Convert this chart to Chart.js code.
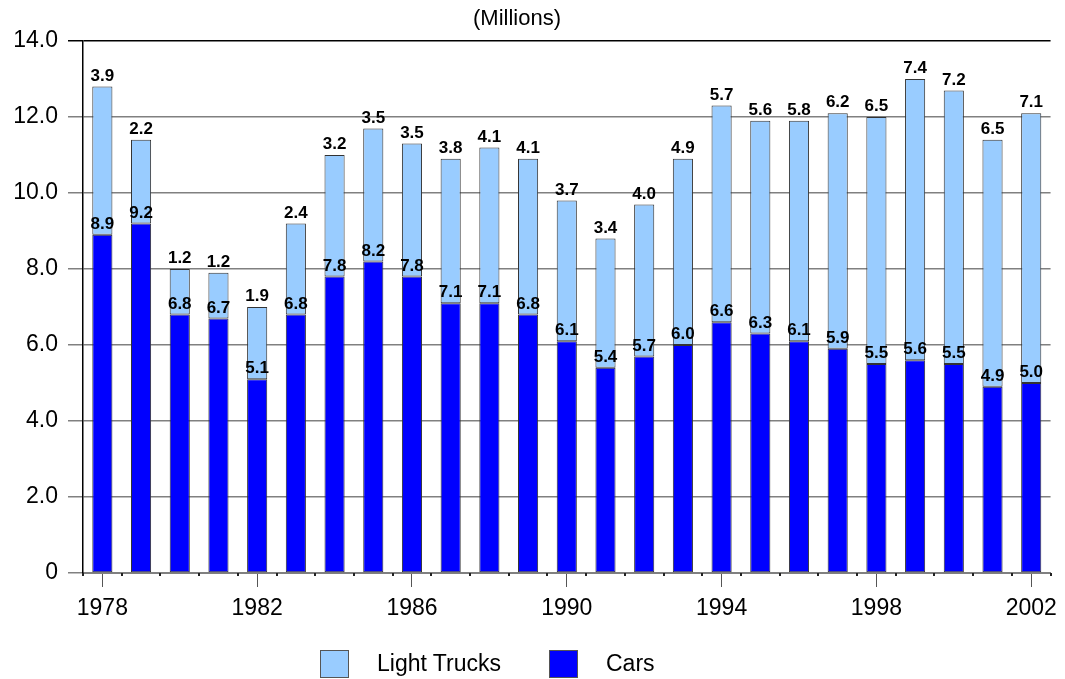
<!DOCTYPE html>
<html>
<head>
<meta charset="utf-8">
<script src="https://cdn.jsdelivr.net/npm/chart.js@4"></script>
<style>
  html, body { margin: 0; padding: 0; background: #fff; }
  #wrap { position: relative; width: 1065px; height: 679px; }
  canvas { position: absolute; left: 0; top: 0; }
  #title { position: absolute; left: 417px; width: 200px; top: 5px; text-align: center;
           font: 22px "Liberation Sans", Arial, sans-serif; color: #000; }
  .leg { position: absolute; top: 650px; height: 28px; font: 23px "Liberation Sans", Arial, sans-serif; color: #000; }
  .box { position: absolute; width: 27px; height: 26px; border: 1px solid #555; }
</style>
</head>
<body>
<div id="wrap">
  <canvas id="c" width="1065" height="679"></canvas>
  <div id="title">(Millions)</div>
  <div id="legend"></div>
</div>
<script>
const years = ["1978","1979","1980","1981","1982","1983","1984","1985","1986","1987","1988","1989","1990","1991","1992","1993","1994","1995","1996","1997","1998","1999","2000","2001","2002"];
const cars = [8.9, 9.2, 6.8, 6.7, 5.1, 6.8, 7.8, 8.2, 7.8, 7.1, 7.1, 6.8, 6.1, 5.4, 5.7, 6.0, 6.6, 6.3, 6.1, 5.9, 5.5, 5.6, 5.5, 4.9, 5.0];
const lightTrucks = [3.9, 2.2, 1.2, 1.2, 1.9, 2.4, 3.2, 3.5, 3.5, 3.8, 4.1, 4.1, 3.7, 3.4, 4.0, 4.9, 5.7, 5.6, 5.8, 6.2, 6.5, 7.4, 7.2, 6.5, 7.1];
const yTicks = [0, 2, 4, 6, 8, 10, 12, 14];

const CAR_COLOR = '#0000FF';
const TRUCK_COLOR = '#99CCFF';
const FONT = '"Liberation Sans", Arial, sans-serif';

// HTML legend
const legendItems = [
  { label: 'Light Trucks', color: TRUCK_COLOR, boxX: 320, textX: 377 },
  { label: 'Cars', color: CAR_COLOR, boxX: 549, textX: 606 }
];
const legendEl = document.getElementById('legend');
legendItems.forEach(it => {
  const b = document.createElement('div');
  b.className = 'box';
  b.style.left = it.boxX + 'px';
  b.style.top = '650px';
  b.style.background = it.color;
  legendEl.appendChild(b);
  const t = document.createElement('div');
  t.className = 'leg';
  t.style.left = it.textX + 'px';
  t.style.top = '650px';
  t.textContent = it.label;
  legendEl.appendChild(t);
});

const labelPlugin = {
  id: 'barLabels',
  afterDatasetsDraw(chart) {
    const ctx = chart.ctx;
    ctx.save();
    ctx.font = 'bold 17px ' + FONT;
    ctx.fillStyle = '#000';
    ctx.textAlign = 'center';
    ctx.textBaseline = 'bottom';
    chart.data.datasets.forEach((ds, di) => {
      const meta = chart.getDatasetMeta(di);
      meta.data.forEach((bar, i) => {
        ctx.fillText(ds.data[i].toFixed(1), bar.x, bar.y - 2);
      });
    });
    ctx.restore();
  }
};

const minorTicks = {
  id: 'minorTicks',
  afterDraw(chart) {
    const xs = chart.scales.x;
    const ctx = chart.ctx;
    const n = xs.getLabels().length;
    ctx.save();
    ctx.strokeStyle = '#222';
    ctx.lineWidth = 2;
    for (let i = 0; i <= n; i++) {
      let x;
      if (i === 0) x = xs.getPixelForValue(0) - (xs.getPixelForValue(1) - xs.getPixelForValue(0)) / 2;
      else if (i === n) x = xs.getPixelForValue(n - 1) + (xs.getPixelForValue(1) - xs.getPixelForValue(0)) / 2;
      else x = (xs.getPixelForValue(i - 1) + xs.getPixelForValue(i)) / 2;
      x = Math.round(x);
      ctx.beginPath();
      ctx.moveTo(x, xs.top);
      ctx.lineTo(x, xs.top + 3);
      ctx.stroke();
    }
    ctx.restore();
  }
};

new Chart(document.getElementById('c'), {
  type: 'bar',
  data: {
    labels: years,
    datasets: [
      { label: 'Cars', data: cars, backgroundColor: CAR_COLOR, borderColor: '#333', borderWidth: 1, borderSkipped: false,
        categoryPercentage: 1, barPercentage: 0.52, stack: 's' },
      { label: 'Light Trucks', data: lightTrucks, backgroundColor: TRUCK_COLOR, borderColor: '#333', borderWidth: 1, borderSkipped: false,
        categoryPercentage: 1, barPercentage: 0.52, stack: 's' }
    ]
  },
  options: {
    responsive: false,
    animation: false,
    layout: { padding: { top: 41, right: 10, bottom: 56, left: 0 } },
    plugins: {
      legend: { display: false },
      title: { display: false },
      tooltip: { enabled: false }
    },
    scales: {
      x: {
        stacked: true,
        offset: true,
        afterFit(s) { s.height = 50; },
        grid: {
          offset: false,
          drawOnChartArea: false,
          drawTicks: true,
          tickLength: 14,
          tickColor: (c) => (c.index % 4 === 0 ? '#555' : 'rgba(0,0,0,0)'),
          color: 'rgba(0,0,0,0)'
        },
        border: { display: true, color: '#808080', width: 2 },
        ticks: {
          autoSkip: false,
          maxRotation: 0,
          padding: 8,
          color: '#000',
          font: { family: FONT, size: 23 },
          callback: (v, i) => (i % 4 === 0 ? years[i] : '')
        }
      },
      y: {
        stacked: true,
        min: 0,
        max: 14,
        afterFit(s) { s.width = 83; },
        afterBuildTicks(s) { s.ticks = yTicks.map(v => ({ value: v })); },
        grid: {
          color: (c) => (c.tick && c.tick.value === 14 ? '#000' : '#808080'),
          lineWidth: 1.5,
          drawTicks: true,
          tickLength: 15
        },
        border: { display: true, color: '#000', width: 1.5 },
        ticks: {
          padding: 10,
          color: '#000',
          font: { family: FONT, size: 23 },
          callback: (v) => (v === 0 ? '0' : Number(v).toFixed(1))
        }
      }
    }
  },
  plugins: [labelPlugin, minorTicks]
});
</script>
</body>
</html>
